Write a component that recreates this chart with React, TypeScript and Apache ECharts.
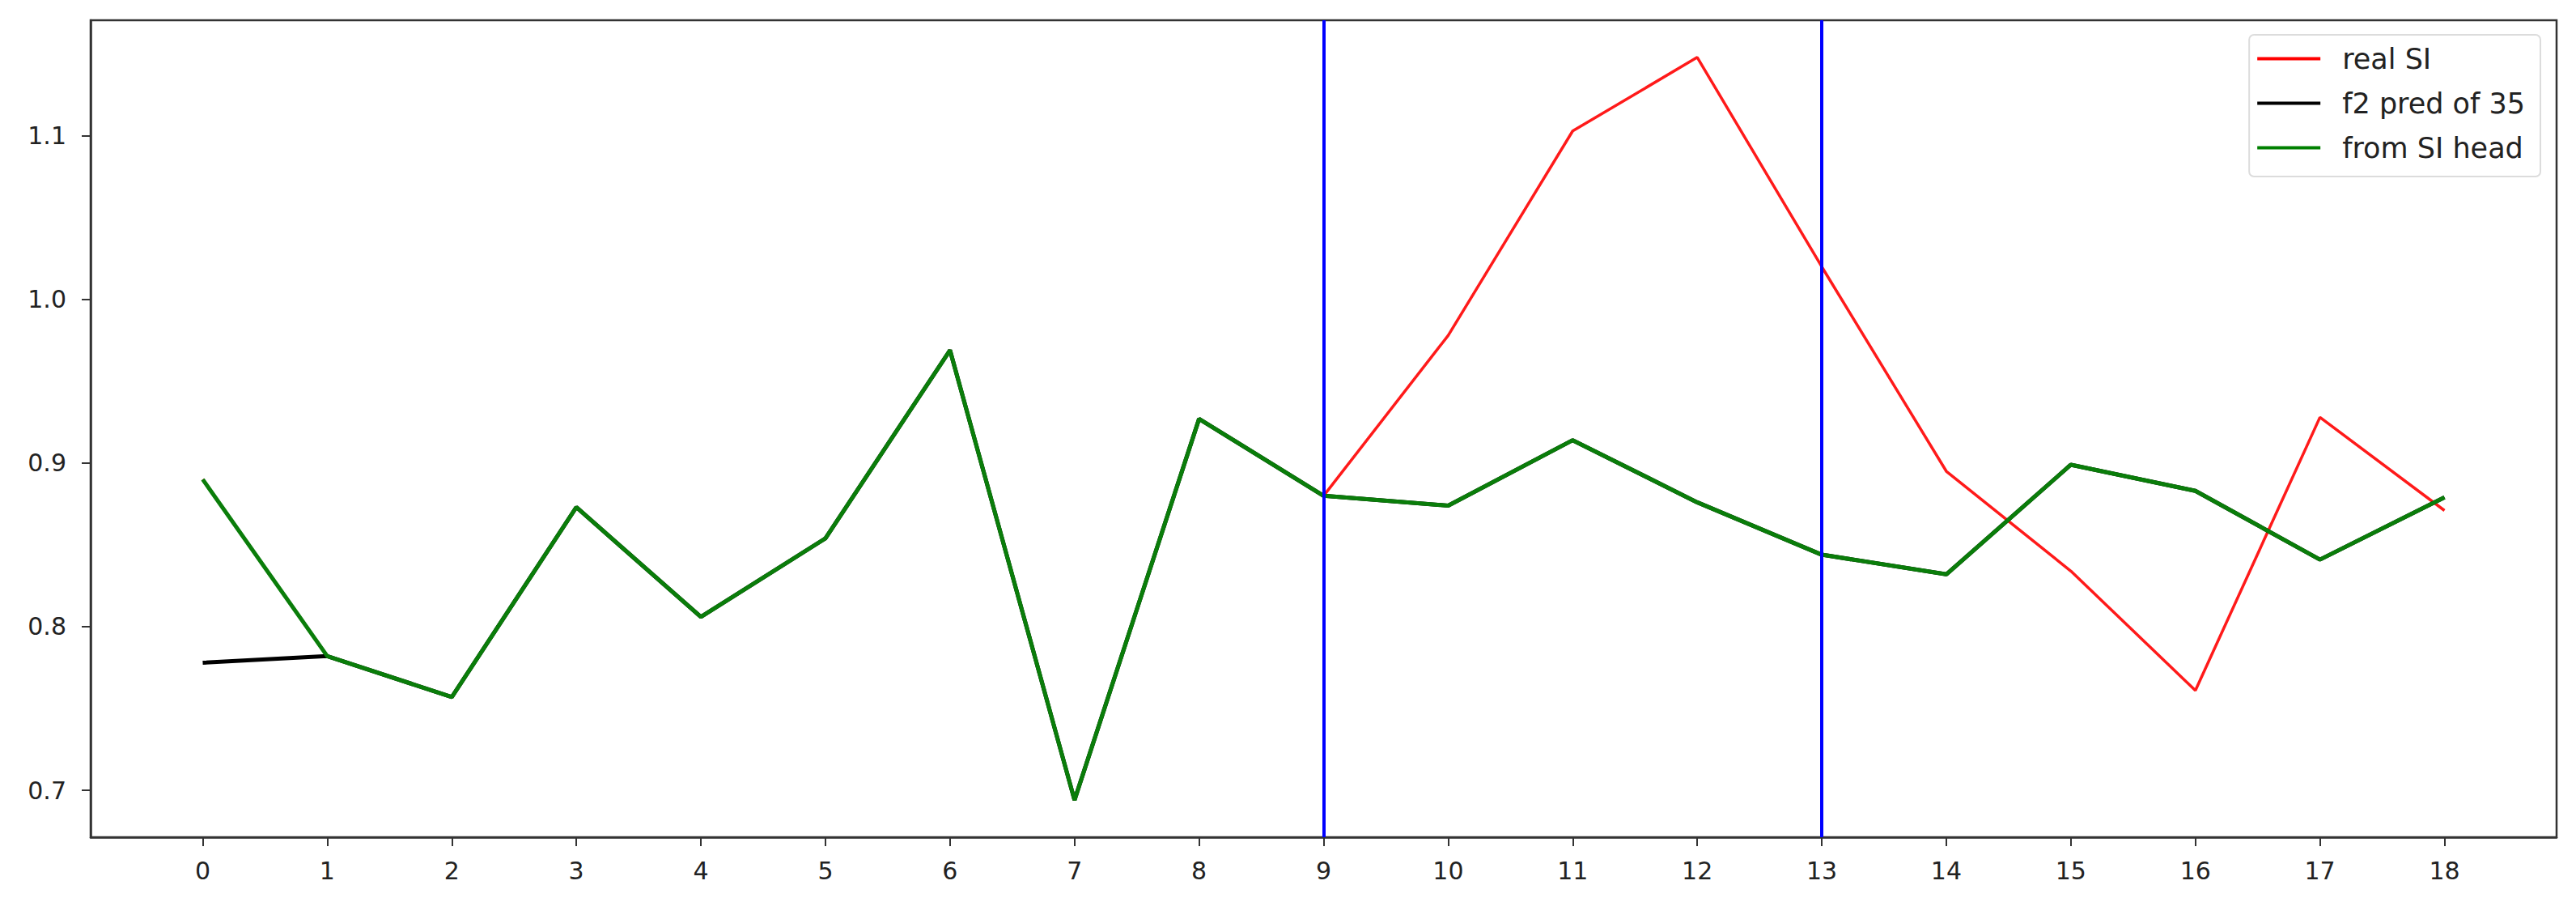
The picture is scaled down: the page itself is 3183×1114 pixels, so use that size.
import React, { useEffect, useRef } from "react";
import * as echarts from "echarts";

const steps = [0, 1, 2, 3, 4, 5, 6, 7, 8, 9, 10, 11, 12, 13, 14, 15, 16, 17, 18];
const realSI = [0.890, 0.782, 0.757, 0.873, 0.806, 0.854, 0.969, 0.694, 0.927, 0.880, 0.978, 1.103, 1.148, 1.020, 0.895, 0.834, 0.761, 0.928, 0.871];
const f2Pred = [0.778, 0.782, 0.757, 0.873, 0.806, 0.854, 0.969, 0.694, 0.927, 0.880, 0.874, 0.914, 0.876, 0.844, 0.832, 0.899, 0.883, 0.841, 0.879];
const fromHead = [0.890, 0.782, 0.757, 0.873, 0.806, 0.854, 0.969, 0.694, 0.927, 0.880, 0.874, 0.914, 0.876, 0.844, 0.832, 0.899, 0.883, 0.841, 0.879];
const yTicks = [0.7, 0.8, 0.9, 1.0, 1.1];
const vLines = [9, 13];
const names = ["real SI", "f2 pred of 35", "from SI head"];

const FONT = "DejaVu Sans";

export default function App() {
  const ref = useRef<HTMLDivElement>(null);
  useEffect(() => {
    if (!ref.current) return;
    const chart = echarts.init(ref.current, undefined, { renderer: "svg" });
    const pairs = (vals: number[]) => steps.map((x, i) => [x, vals[i]]);
    chart.setOption({
      animation: false,
      backgroundColor: "#ffffff",
      grid: {
        left: 112,
        right: 24,
        top: 25,
        bottom: 80,
        show: true,
        borderColor: "#333",
        borderWidth: 2.5,
        backgroundColor: "transparent",
      },
      xAxis: {
        type: "value",
        min: -0.9,
        max: 18.9,
        splitLine: { show: false },
        axisLine: { show: true, onZero: false, lineStyle: { color: "#333", width: 2.5 } },
        axisTick: { show: true, length: 11, customValues: steps, lineStyle: { color: "#333", width: 2 } },
        axisLabel: {
          customValues: steps,
          margin: 26,
          fontFamily: FONT,
          fontSize: 30,
          color: "#222",
          formatter: (v: number) => String(Math.round(v)),
        },
      },
      yAxis: {
        type: "value",
        min: 0.6713,
        max: 1.1707,
        splitLine: { show: false },
        axisLine: { show: true, onZero: false, lineStyle: { color: "#333", width: 2.5 } },
        axisTick: { show: true, length: 11, customValues: yTicks, lineStyle: { color: "#333", width: 2 } },
        axisLabel: {
          customValues: yTicks,
          margin: 30,
          fontFamily: FONT,
          fontSize: 30,
          color: "#222",
          formatter: (v: number) => v.toFixed(1),
        },
      },
      legend: {
        data: names,
        orient: "vertical",
        right: 44,
        top: 43,
        padding: [12, 19, 18, 10],
        itemGap: 20,
        itemWidth: 78,
        itemHeight: 4,
        icon: "rect",
        backgroundColor: "#ffffff",
        borderColor: "#dcdcdc",
        borderWidth: 2,
        borderRadius: 6,
        textStyle: {
          fontFamily: FONT,
          fontSize: 35,
          lineHeight: 35,
          color: "#222",
          padding: [0, 0, 0, 22],
        },
      },
      series: [
        {
          name: names[0],
          type: "line",
          data: pairs(realSI),
          showSymbol: false,
          symbol: "none",
          itemStyle: { color: "#ff0000" },
          lineStyle: { color: "#ff1a1a", width: 3.5 },
          z: 2,
        },
        {
          name: names[1],
          type: "line",
          data: pairs(f2Pred),
          showSymbol: false,
          symbol: "none",
          itemStyle: { color: "#000000" },
          lineStyle: { color: "#000000", width: 5 },
          z: 3,
        },
        {
          name: names[2],
          type: "line",
          data: pairs(fromHead),
          showSymbol: false,
          symbol: "none",
          itemStyle: { color: "#008000" },
          lineStyle: { color: "#0a7d0a", width: 5 },
          z: 4,
        },
        {
          name: "vlines",
          type: "line",
          data: [],
          z: 5,
          markLine: {
            silent: true,
            symbol: ["none", "none"],
            label: { show: false },
            lineStyle: { color: "#0000ff", width: 4, type: "solid" },
            data: vLines.map((x) => ({ xAxis: x })),
          },
        },
      ],
    });
    return () => chart.dispose();
  }, []);
  return (
    <div
      ref={ref}
      style={{ position: "fixed", left: 0, top: 0, width: 3183, height: 1114, background: "#fff" }}
    />
  );
}
